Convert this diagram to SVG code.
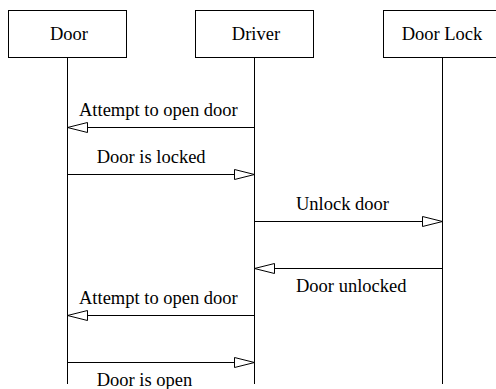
<svg xmlns="http://www.w3.org/2000/svg" width="496" height="389" viewBox="0 0 496 389">
<style>
.box{fill:#fff;stroke:#000;stroke-width:1}
.life{stroke:#000;stroke-width:1;fill:none}
.msg{stroke:#000;stroke-width:1;fill:none;marker-end:url(#open)}
text{font-family:"Liberation Serif","Times New Roman",serif;font-size:18.5px;fill:#000}
.c{text-anchor:middle}
</style>
<defs>
<marker id="open" markerUnits="userSpaceOnUse" markerWidth="22" markerHeight="12" refX="20" refY="5" orient="auto" overflow="visible">
<path d="M0,0 L20,5 L0,10 Z" fill="#fff" stroke="#000" stroke-width="1"/>
</marker>
</defs>
<rect width="496" height="389" fill="#fff"/>
<g id="door">
<rect class="box" x="8.5" y="10.5" width="118" height="47"/>
<text class="c" x="69" y="39.5">Door</text>
<line class="life" x1="67.5" y1="57.5" x2="67.5" y2="384"/>
</g>
<g id="driver">
<rect class="box" x="195.5" y="10.5" width="118" height="47"/>
<text class="c" x="256" y="39.5">Driver</text>
<line class="life" x1="254.5" y1="57.5" x2="254.5" y2="384"/>
</g>
<g id="doorlock">
<rect class="box" x="383.5" y="10.5" width="118" height="47"/>
<text class="c" x="442" y="39.5">Door Lock</text>
<line class="life" x1="442.5" y1="57.5" x2="442.5" y2="384"/>
</g>
<g id="connectors">
<line class="msg" x1="254.5" y1="127.5" x2="67.5" y2="127.5"/>
<text x="79" y="116">Attempt to open door</text>
<line class="msg" x1="67.5" y1="174.5" x2="254.5" y2="174.5"/>
<text x="96.7" y="163">Door is locked</text>
<line class="msg" x1="254.5" y1="221.5" x2="442.5" y2="221.5"/>
<text x="296" y="210">Unlock door</text>
<line class="msg" x1="442.5" y1="268.5" x2="254.5" y2="268.5"/>
<text x="296" y="292">Door unlocked</text>
<line class="msg" x1="254.5" y1="315.5" x2="67.5" y2="315.5"/>
<text x="79" y="304">Attempt to open door</text>
<line class="msg" x1="67.5" y1="362.5" x2="254.5" y2="362.5"/>
<text x="96.7" y="386">Door is open</text>
</g>
</svg>
